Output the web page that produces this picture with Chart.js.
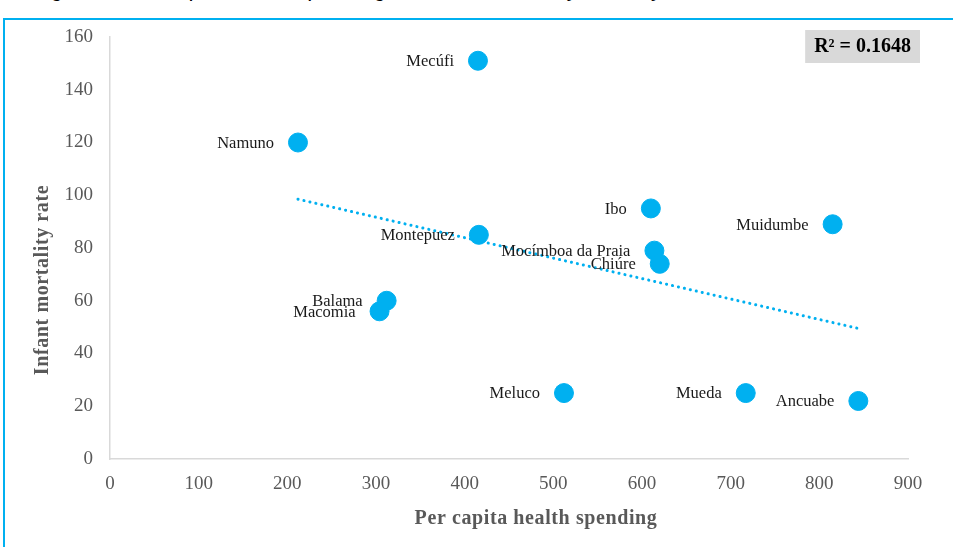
<!DOCTYPE html>
<html>
<head>
<meta charset="utf-8">
<script src="https://cdn.jsdelivr.net/npm/chart.js@4"></script>
<style>
  body { margin: 0; width: 953px; height: 547px; overflow: hidden; background: #fff; position: relative; }
  #title { position: absolute; left: 34px; top: -24px; font: italic 22px "Liberation Sans", Arial, sans-serif; color: #000; white-space: nowrap; }
  #frame { position: absolute; left: 3px; top: 18px; width: 1000px; height: 600px; border-left: 2px solid #00b0f0; border-top: 2px solid #00b0f0; background: transparent; }
  #wrap { position: absolute; left: 0; top: 0; width: 953px; height: 547px; }
</style>
</head>
<body>
<div id="title">Figure 3: Per capita health spending and infant mortality rates by districts, latest available</div>
<div id="frame"></div>
<div id="wrap"><canvas id="myChart" width="953" height="547"></canvas></div>
<script>
const districts = ['Mecúfi', 'Namuno', 'Ibo', 'Muidumbe', 'Montepuez', 'Mocímboa da Praia', 'Chiúre', 'Balama', 'Macomia', 'Meluco', 'Mueda', 'Ancuabe'];
const spending = [415, 212, 610, 815, 416, 614, 620, 312, 304, 512, 717, 844];
const mortality = [151, 120, 95, 89, 85, 79, 74, 60, 56, 25, 25, 22];
const trendX = [212, 844];
const trendY = [98.5, 49.5];
const xTicks = [0, 100, 200, 300, 400, 500, 600, 700, 800, 900];
const yTicks = [0, 20, 40, 60, 80, 100, 120, 140, 160];
const rSquared = 'R² = 0.1648';
const xTitle = 'Per capita health spending';
const yTitle = 'Infant mortality rate';

const points = [];
for (let i = 0; i < districts.length; i += 1) {
  points.push({ x: spending[i], y: mortality[i], name: districts[i] });
}
const trend = trendX.map((x, i) => ({ x: x, y: trendY[i] }));

const serif = '"Liberation Serif", "Times New Roman", serif';

// point labels, R² box and the two axis titles (placed like the original, a bit off centre)
const labelPlugin = {
  id: 'labels',
  afterDatasetsDraw(chart) {
    const c = chart.ctx;
    const meta = chart.getDatasetMeta(1);
    c.save();
    c.font = '16.5px ' + serif;
    c.fillStyle = '#1a1a1a';
    c.textAlign = 'right';
    c.textBaseline = 'middle';
    meta.data.forEach((el, i) => {
      c.fillText(points[i].name, el.x - 24, el.y + 1);
    });

    c.font = 'bold 20px ' + serif;
    const w = c.measureText(rSquared).width;
    const right = chart.chartArea.right + 12;
    c.fillStyle = '#d9d9d9';
    c.fillRect(right - w - 18, 30, w + 18, 33);
    c.fillStyle = '#000';
    c.textAlign = 'left';
    c.fillText(rSquared, right - w - 9, 47);

    c.fillStyle = '#595959';
    c.textAlign = 'center';
    c.letterSpacing = '0.6px';
    c.fillText(xTitle, 536, 519);
    c.translate(43, 280);
    c.rotate(-Math.PI / 2);
    c.fillText(yTitle, 0, 0);
    c.restore();
  }
};

const ctx = document.getElementById('myChart').getContext('2d');

const myChart = new Chart(ctx, {
  type: 'scatter',
  data: {
    datasets: [{
      type: 'line',
      data: trend,
      borderColor: 'rgb(0, 176, 240)',
      borderWidth: 3,
      borderDash: [0.1, 6],
      borderCapStyle: 'round',
      pointRadius: 0,
      fill: false
    }, {
      data: points,
      backgroundColor: 'rgb(0, 176, 240)',
      borderColor: 'rgb(0, 176, 240)',
      pointRadius: 9.5,
      pointHoverRadius: 9.5
    }]
  },
  options: {
    responsive: false,
    animation: false,
    events: [],
    layout: { padding: { left: 0, top: 37, right: 45, bottom: 0 } },
    plugins: { legend: { display: false }, tooltip: { enabled: false } },
    scales: {
      x: {
        type: 'linear',
        min: 0,
        max: 900,
        afterBuildTicks: (s) => { s.ticks = xTicks.map(v => ({ value: v })); },
        afterFit: (s) => { s.height = 88; },
        grid: { display: false, drawTicks: false },
        border: { color: '#d9d9d9', width: 1.5 },
        ticks: { color: '#595959', padding: 14, font: { family: serif, size: 19 } }
      },
      y: {
        min: 0,
        max: 160,
        afterBuildTicks: (s) => { s.ticks = yTicks.map(v => ({ value: v })); },
        afterFit: (s) => { s.width = 110; },
        grid: { display: false, drawTicks: false },
        border: { color: '#d9d9d9', width: 1.5 },
        ticks: { color: '#595959', padding: 17, font: { family: serif, size: 19 } }
      }
    }
  },
  plugins: [labelPlugin]
});
</script>
</body>
</html>
